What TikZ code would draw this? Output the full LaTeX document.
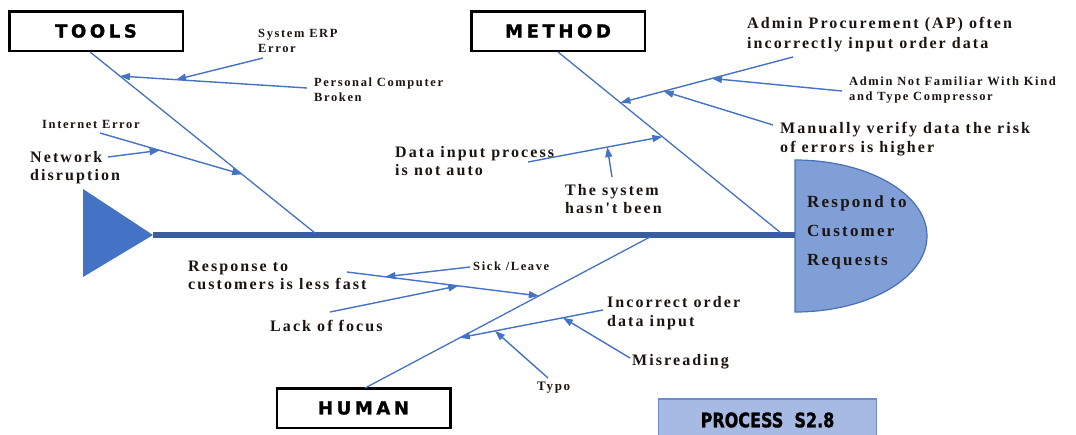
\documentclass[tikz,border=0pt]{standalone}
\usepackage{fontspec}
\setmainfont{Liberation Serif}
\newfontfamily\lblfont[LetterSpace=13]{Liberation Serif}
\newfontfamily\boxfont[LetterSpace=20,FakeBold=1.5]{DejaVu Sans}
\newfontfamily\procfont[FakeBold=1.5]{DejaVu Sans}
\usetikzlibrary{arrows.meta,calc}

\definecolor{bone}{HTML}{4472C4}
\definecolor{spinecol}{HTML}{3A5DA0}
\definecolor{headfill}{HTML}{7F9FD6}
\definecolor{headline}{HTML}{4A6FB8}
\definecolor{procfill}{HTML}{A6BAE4}
\definecolor{procline}{HTML}{6A8CCF}
\definecolor{ink}{HTML}{1C1410}

\begin{document}
\begin{tikzpicture}[x=1pt,y=-1pt,
  catbox/.style={draw=black, line width=2.5pt, fill=white,
    minimum width=173.5pt, minimum height=39.5pt, inner sep=0,
    font=\boxfont\bfseries\fontsize{18}{20}\selectfont},
  bigtxt/.style={font=\lblfont\bfseries\fontsize{16}{19}\selectfont,
    text=ink, anchor=base west, inner sep=0, align=left},
  smalltxt/.style={font=\lblfont\bfseries\fontsize{12.5}{15}\selectfont,
    text=ink, anchor=base west, inner sep=0, align=left},
  bonestyle/.style={draw=bone, line width=1.3pt},
  cause/.style={draw=bone, line width=1.4pt,
    -{Triangle[length=10pt,width=7pt]}},
]
\useasboundingbox (0,0) rectangle (1076,434);

% ---- category boxes ----
\node[catbox] (tools)  at (96,31)  {TOOLS};
\node[catbox] (method) at (558,31) {METHOD};
\node[catbox] (human)  at (363.5,408) {HUMAN};

% ---- spine, tail and head ----
\coordinate (tailtip) at (153,235);
\coordinate (headL) at (795,235);
\fill[bone] (83,189) -- (tailtip) -- (83,277) -- cycle;
\draw[draw=spinecol, line width=5.5pt] (tailtip) -- (headL);
\draw[fill=headfill, draw=headline, line width=1.2pt]
  (795,160) -- (795,312)
  arc[start angle=-90, end angle=90, x radius=132pt, y radius=76pt] -- cycle;
% multi-line labels are placed by the baseline of their last line
\node[font=\lblfont\bfseries\fontsize{17}{29}\selectfont, text=ink,
  anchor=base west, inner sep=0, align=left] (effect) at (807,265)
  {Respond to\\Customer\\Requests};

% ---- main bones ----
\coordinate (tt) at (90,52);   \coordinate (tb) at (315,233);
\coordinate (mt) at (558,52);  \coordinate (mb) at (781,233);
\coordinate (hb) at (365,388); \coordinate (ht) at (650,237);
\draw[bonestyle] (tt) -- (tb);
\draw[bonestyle] (mt) -- (mb);
\draw[bonestyle] (hb) -- (ht);

% ---- TOOLS causes ----
\coordinate (pcS) at (307,88);
\coordinate (pcT) at ($(tt)!0.133!(tb)$);
\draw[cause] (pcS) -- (pcT);
\coordinate (erpS) at (263,58);
\coordinate (erpT) at ($(pcS)!0.70!(pcT)$);
\draw[cause] (erpS) -- (erpT);
\coordinate (netS) at (100,133);
\coordinate (netT) at ($(tt)!0.676!(tb)$);
\draw[cause] (netS) -- (netT);
\coordinate (ndS) at (108,157);
\coordinate (ndT) at ($(netS)!0.42!(netT)$);
\draw[cause] (ndS) -- (ndT);

\node[smalltxt] (erp) at (258,52) {System ERP\\Error};
\node[smalltxt] (pc) at (314,101) {Personal Computer\\Broken};
\node[smalltxt] (inet) at (42,128) {Internet Error};
\node[bigtxt, font=\lblfont\bfseries\fontsize{16}{18}\selectfont] (nd) at (30,180) {Network\\disruption};

% ---- METHOD causes ----
\coordinate (apS) at (793,57);
\coordinate (apT) at ($(mt)!0.28!(mb)$);
\draw[cause] (apS) -- (apT);
\coordinate (anfS) at (842,91);
\coordinate (anfT) at ($(apS)!0.47!(apT)$);
\draw[cause] (anfS) -- (anfT);
\coordinate (mvS) at (773,125);
\coordinate (mvT) at ($(apS)!0.75!(apT)$);
\draw[cause] (mvS) -- (mvT);
\coordinate (diS) at (528,162);
\coordinate (diT) at ($(mt)!0.468!(mb)$);
\draw[cause] (diS) -- (diT);
\coordinate (syS) at (612,177);
\coordinate (syT) at ($(diS)!0.59!(diT)$);
\draw[cause] (syS) -- (syT);

\node[bigtxt, font=\lblfont\bfseries\fontsize{16}{20}\selectfont] (ap) at (747,48)
  {Admin Procurement (AP) often\\incorrectly input order data};
\node[smalltxt] (anf) at (849,100) {Admin Not Familiar With Kind\\and Type Compressor};
\node[bigtxt] (mv) at (780,152) {Manually verify data the risk\\of errors is higher};
\node[bigtxt, font=\lblfont\bfseries\fontsize{16}{18}\selectfont] (di) at (395,175) {Data input process\\is not auto};
\node[bigtxt, font=\lblfont\bfseries\fontsize{16}{18}\selectfont] (sy) at (565,213) {The system\\hasn't been};

% ---- HUMAN causes ----
\coordinate (rsS) at (347,272);
\coordinate (rsT) at ($(hb)!0.61!(ht)$);
\draw[cause] (rsS) -- (rsT);
\coordinate (skS) at (470,267);
\coordinate (skT) at ($(rsS)!0.2!(rsT)$);
\draw[cause] (skS) -- (skT);
\coordinate (lfS) at (330,312);
\coordinate (lfT) at ($(rsS)!0.58!(rsT)$);
\draw[cause] (lfS) -- (lfT);
\coordinate (ioS) at (603,310);
\coordinate (ioT) at ($(hb)!0.333!(ht)$);
\draw[cause] (ioS) -- (ioT);
\coordinate (mrS) at (630,358);
\coordinate (mrT) at ($(ioS)!0.28!(ioT)$);
\draw[cause] (mrS) -- (mrT);
\coordinate (tyS) at (548,378);
\coordinate (tyT) at ($(ioS)!0.755!(ioT)$);
\draw[cause] (tyS) -- (tyT);

\node[bigtxt, font=\lblfont\bfseries\fontsize{16}{17.5}\selectfont] (rs) at (188,289)
  {Response to\\customers is less fast};
\node[smalltxt] (sk) at (473,270) {Sick /Leave};
\node[bigtxt] (lf) at (270,331) {Lack of focus};
\node[bigtxt] (io) at (607,326) {Incorrect order\\data input};
\node[bigtxt] (mr) at (632,365) {Misreading};
\node[smalltxt, font=\lblfont\bfseries\fontsize{13}{15}\selectfont] (ty) at (537,390) {Typo};

% ---- process tag ----
\node[draw=procline, fill=procfill, line width=1.5pt,
  minimum width=218pt, minimum height=42pt, inner sep=0] (proc) at (767.5,420)
  {\scalebox{0.8}[1]{\procfont\bfseries\fontsize{20}{22}\selectfont PROCESS\ \ S2.8}};
\end{tikzpicture}
\end{document}
